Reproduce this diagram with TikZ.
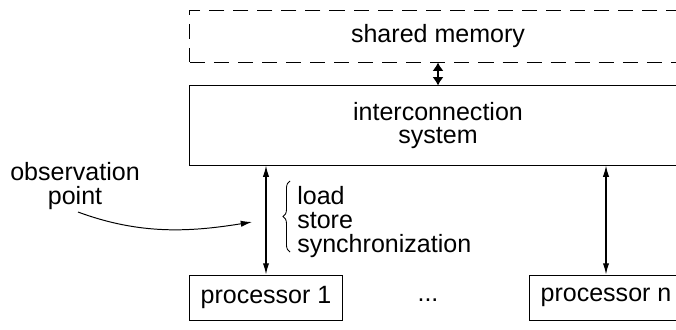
\documentclass[tikz,border=0pt]{standalone}
\usepackage{fontspec}
\setmainfont{Liberation Sans}
\usetikzlibrary{arrows.meta, decorations.pathreplacing}

\tikzset{
  unit/.style={draw, line width=.7pt, inner sep=0pt, minimum height=1.125cm, minimum width=3.8cm},
  link/.style={{Latex[length=8pt, width=4.5pt]}-{Latex[length=8pt, width=4.5pt]}, line width=.9pt}
}

\begin{document}
\begin{tikzpicture}[x=0.025cm, y=-0.025cm, font=\fontsize{17.8}{16.8}\selectfont]
  \useasboundingbox (0, 0) rectangle (676, 329);
  \clip (0, 0) rectangle (676, 329);

  % memory and interconnect
  \node [draw, dash pattern=on 10.7pt off 6.4pt, line width=.7pt, minimum width=12.4cm, minimum height=1.3cm] (mem) at (438, 36) {shared memory};
  \node [draw, line width=.7pt, minimum width=12.4cm, minimum height=1.975cm, align=center] (net) at (438, 125.5) {interconnection\\system};
  \draw [{Latex[length=6pt, width=8pt]}-{Latex[length=6pt, width=8pt]}, line width=1.6pt] (mem.south) to (net.north);

  % processors
  \node [unit] (p1) at (266, 297.5) {processor 1};
  \node [unit] (pn) at (606, 297.5) {processor n};
  \node (dots) at (428, 300) {...};
  \draw [link] (p1.north) to (p1 |- net.south);
  \draw [link] (pn.north) to (pn |- net.south);

  % operations seen at the observation point
  \draw [decorate, decoration={brace, amplitude=5pt}, line width=.6pt] (290, 252) to (290, 181);
  \node [anchor=west, align=left, inner sep=0pt] (ops) at (297, 222) {load\\store\\synchronization};

  \node [align=center] (obs) at (75, 186) {observation\\point};
  \coordinate (tail) at (78, 212);
  \coordinate (tip) at (252, 222);
  \draw [->, >={Latex[length=8pt, width=4.5pt]}, line width=.7pt] (tail) .. controls (140, 235) and (190, 232) .. (tip);
\end{tikzpicture}
\end{document}
